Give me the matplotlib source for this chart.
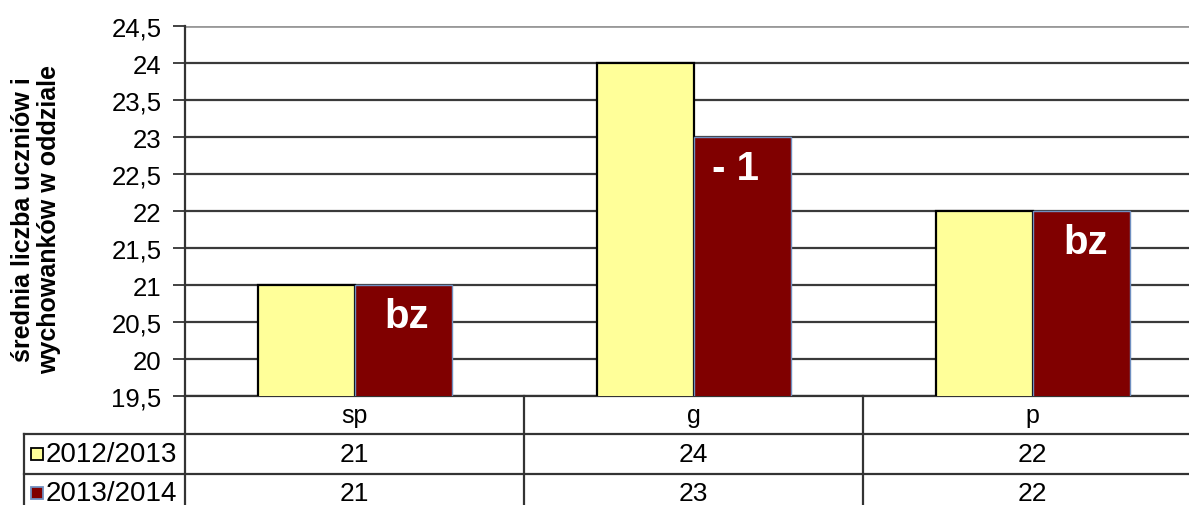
import matplotlib
matplotlib.use("Agg")
import matplotlib.pyplot as plt
import matplotlib.transforms as mtransforms
from matplotlib.patches import Rectangle
import numpy as np

categories = ["sp", "g", "p"]
series_names = ["2012/2013", "2013/2014"]
values_2012 = [21, 24, 22]
values_2013 = [21, 23, 22]
change_labels = ["bz", "- 1", "bz"]
yticks = [19.5, 20, 20.5, 21, 21.5, 22, 22.5, 23, 23.5, 24, 24.5]
ylabel = "średnia liczba uczniów i\nwychowanków w oddziale"

colors = ["#FFFF99", "#800000"]
edgecolors = ["#000000", "#6f8fc0"]
FONT = "Liberation Sans"
FS = 18.5

W, H = 1189, 506
fig = plt.figure(figsize=(W / 100, H / 100), dpi=100)

def fx(x):
    return x / W

def fy(y):
    return 1 - y / H

left, right, top, bottom = 185, 1202, 27, 397
ax = fig.add_axes([fx(left), fy(bottom), fx(right) - fx(left), fy(top) - fy(bottom)])

x = np.arange(len(categories))
bw = 97 / 339
ax.bar(x - bw / 2, values_2012, bw, color=colors[0], edgecolor=edgecolors[0], linewidth=1.6, zorder=3)
ax.bar(x + bw / 2, values_2013, bw, color=colors[1], edgecolor=edgecolors[1], linewidth=1.0, zorder=3)

ax.set_xlim(-0.5, 2.5)
ax.set_ylim(19.5, 24.5)
ax.set_yticks(yticks)
ax.set_yticklabels([f"{t:g}".replace(".", ",") for t in yticks], fontsize=FS, family=FONT)
ax.set_xticks([])
ax.tick_params(axis="y", direction="out", length=9, width=1.3, color="#333333", pad=8)
for t in yticks[:-1]:
    ax.axhline(t, color="#3a3a3a", linewidth=1.6, zorder=1)
for s in ["top", "right"]:
    ax.spines[s].set_visible(False)
ax.axhline(24.5, color="#999999", linewidth=2.0, zorder=1)
ax.spines["left"].set_color("#333333")
ax.spines["left"].set_linewidth(1.6)
ax.spines["bottom"].set_color("#333333")
ax.spines["bottom"].set_linewidth(1.6)

# change labels inside the 2013/2014 bars
off = mtransforms.offset_copy(ax.transData, fig=fig, x=0, y=-31, units="dots")
for i, (xi, v, lab) in enumerate(zip(x, values_2013, change_labels)):
    dx = [0.012, -0.018, 0.015][i]
    ax.text(xi + bw / 2 + dx, v, lab, transform=off, ha="center", va="center",
            color="white", fontsize=29, fontweight="bold", family=FONT, zorder=4)

fig.text(fx(36), fy(220), ylabel, rotation=90, ha="center", va="center",
         fontsize=18, fontweight="bold", family=FONT, linespacing=1.08)

# data table below the axis
blend = mtransforms.blended_transform_factory(ax.transData, fig.transFigure)
lc = "#333333"
for yy in [435, 475]:
    fig.add_artist(plt.Line2D([fx(24), fx(1202)], [fy(yy), fy(yy)], color=lc, linewidth=1.6))
fig.add_artist(plt.Line2D([fx(24), fx(24)], [fy(435), fy(515)], color=lc, linewidth=1.6))
fig.add_artist(plt.Line2D([fx(185), fx(185)], [fy(397), fy(515)], color=lc, linewidth=1.6))
for b in [0.5, 1.5]:
    ax.plot([b, b], [fy(397), fy(515)], transform=blend, color=lc, linewidth=1.6, clip_on=False)

row_centers = [416, 455, 494]
for i, c in enumerate(categories):
    ax.text(i, fy(row_centers[0]), c, transform=blend, ha="center", va="center",
            fontsize=FS - 0.5, family=FONT)
for r, vals in enumerate([values_2012, values_2013]):
    for i, v in enumerate(vals):
        ax.text(i, fy(row_centers[r + 1]), str(v), transform=blend, ha="center", va="center",
                fontsize=FS + 0.5, family=FONT)
    fig.add_artist(Rectangle((fx(31), fy(row_centers[r + 1] + 6)), fx(12), 12 / H,
                             facecolor=colors[r], edgecolor=edgecolors[r] if r else "black",
                             linewidth=1.3, transform=fig.transFigure))
    fig.text(fx(46), fy(row_centers[r + 1]), series_names[r], ha="left", va="center",
             fontsize=FS + 1.5, family=FONT)

fig.savefig("out.png", dpi=100)
